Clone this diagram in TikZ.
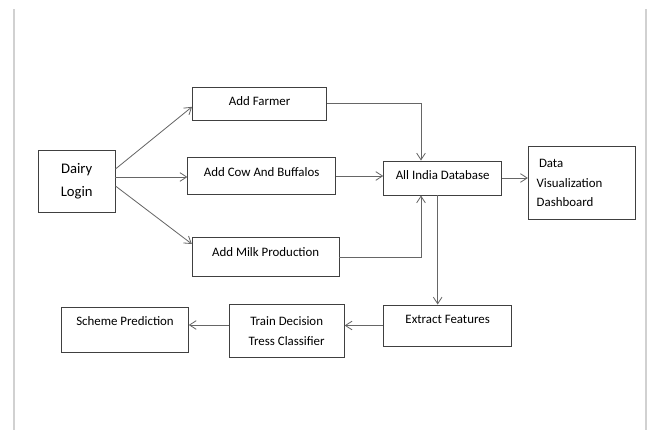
\documentclass[tikz,border=0pt]{standalone}
\usepackage{fontspec}
\setmainfont{Carlito}
\usetikzlibrary{arrows.meta,calc}

\begin{document}
\begin{tikzpicture}[line width=0.8pt,>={Straight Barb[length=2mm,width=2.6mm]},
  box/.style={draw=black!75,rectangle,inner sep=0pt,align=center,
    font=\fontsize{11}{17}\selectfont},
  lift/.style={text height=8pt,text depth=#1},
  flow/.style={->,draw=black!60,line width=0.7pt},
  frame/.style={draw=black!18,line width=2pt}]
\useasboundingbox (0,0) rectangle (19.59,12.9);
% ---------- page edges ----------
\draw[frame] (0.42,0) -- (0.42,12.63);
\draw[frame] (19.38,0) -- (19.38,12.63);
% ---------- input side ----------
\node[box,minimum width=2.30cm,minimum height=1.86cm,
  font=\fontsize{12.5}{20}\selectfont] (dairy) at (2.30,7.47) {Dairy\\Login};
\node[box,lift=4.2pt,minimum width=4.03cm,minimum height=0.99cm] (farmer) at (7.79,9.795) {Add Farmer};
\node[box,lift=7.6pt,minimum width=4.43cm,minimum height=1.10cm] (cow) at (7.85,7.62) {Add Cow And Buffalos};
\node[box,lift=10.2pt,minimum width=4.40cm,minimum height=1.17cm] (milk) at (7.97,5.18) {Add Milk Production};
% ---------- database and dashboard ----------
\node[box,lift=5.9pt,minimum width=3.54cm,minimum height=1.02cm] (db) at (13.28,7.56) {All India Database};
\node[box,align=left,text width=2.7cm,minimum width=3.20cm,minimum height=2.18cm] (viz) at (17.45,7.41)
  {\hspace*{2pt}Data\\Visualization\\Dashboard};
% ---------- learning chain ----------
\node[box,lift=11pt,minimum width=3.83cm,minimum height=1.23cm] (extract) at (13.43,3.135) {Extract Features};
\node[box,minimum width=3.45cm,minimum height=1.57cm] (train) at (8.60,2.97) {Train Decision\\Tress Classifier};
\node[box,lift=16.1pt,minimum width=3.80cm,minimum height=1.37cm] (scheme) at (3.75,3.00) {Scheme Prediction};
% ---------- connectors ----------
\coordinate (d2) at ([yshift=0.12cm]dairy.east);
\draw[flow] ([yshift=0.36cm]dairy.east) -- ([yshift=-0.1cm]farmer.west);
\draw[flow] (d2) -- (d2 -| cow.west);
\draw[flow] ([yshift=-0.15cm]dairy.east) -- ([yshift=0.4cm]milk.west);
\coordinate (dbin) at ([xshift=-0.65cm]db.north);
\coordinate (dbup) at ([xshift=-0.65cm]db.south);
\draw[flow] (farmer.east) -| (dbin);
\draw[flow] (cow.east) -- (cow.east -| db.west);
\draw[flow] (milk.east) -| (dbup);
\draw[flow] (db.east) -- (db.east -| viz.west);
\coordinate (dbout) at ([xshift=-0.15cm]db.south);
\draw[flow] (dbout) -- (dbout |- extract.north);
\draw[flow] (extract.west) -- (extract.west -| train.east);
\coordinate (tout) at ([yshift=0.18cm]train.west);
\draw[flow] (tout) -- (tout -| scheme.east);
\end{tikzpicture}
\end{document}
